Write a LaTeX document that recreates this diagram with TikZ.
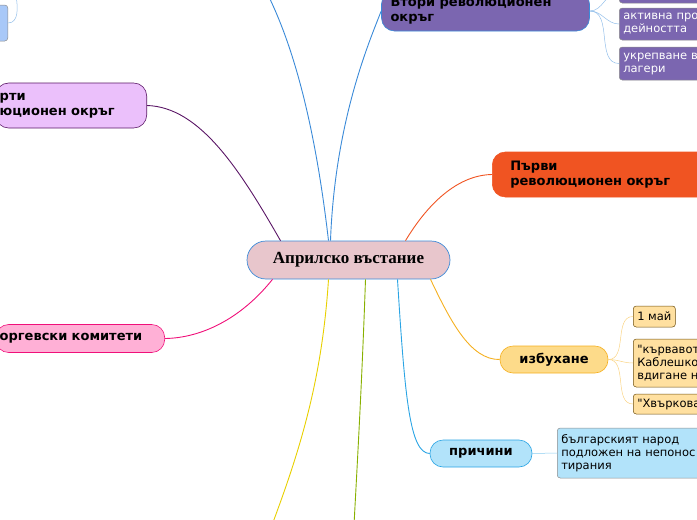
\documentclass[tikz,border=0pt]{standalone}
\usepackage{fontspec}
\setmainfont{DejaVu Sans}
\newfontfamily\titlefont{Liberation Serif}
\usetikzlibrary{positioning}
\definecolor{rootfill}{HTML}{E8C6CC}
\definecolor{rootline}{HTML}{3A8AD8}
\definecolor{vtori}{HTML}{7B66B0}
\definecolor{parvi}{HTML}{F05422}
\definecolor{izb}{HTML}{FDDB8A}
\definecolor{izbline}{HTML}{F5B020}
\definecolor{izbchild}{HTML}{FFE0A0}
\definecolor{prich}{HTML}{B2E3FA}
\definecolor{prichline}{HTML}{2AA4E4}
\definecolor{chetv}{HTML}{EBC0FB}
\definecolor{chetvline}{HTML}{5A1666}
\definecolor{gyur}{HTML}{FFB0D6}
\definecolor{gyurline}{HTML}{F0107A}
\definecolor{leftbox}{HTML}{A8C8F8}
\definecolor{yline}{HTML}{E8D000}
\definecolor{gline}{HTML}{88B000}
\tikzset{branch/.style={rounded corners=13pt,draw,line width=0.6pt,font=\fontsize{13}{15}\selectfont\bfseries,align=left,inner xsep=10pt},
	leaf/.style={rounded corners=3pt,draw=black!45,line width=0.5pt,font=\fontsize{11.5}{13}\selectfont,align=left,inner xsep=4pt,inner ysep=1pt,anchor=west},
	link/.style={line width=0.9pt},
	sublink/.style={line width=0.5pt}}
\begin{document}
\begin{tikzpicture}[x=1pt,y=-1pt]
	\useasboundingbox (0,0) rectangle (697,520);
	\clip (0,0) rectangle (697,520);
	\node[rounded corners=19pt,draw=rootline,fill=rootfill,line width=0.7pt,minimum width=203pt,minimum height=38pt,font=\titlefont\fontsize{17}{19}\selectfont\bfseries] (root) at (348.5,260) {Априлско въстание};

	\node[branch,fill=vtori,draw=rootline,minimum height=40pt,text width=190pt,inner xsep=9pt] (vtori) at (485.5,11) {Втори революционен\\окръг};
	\node[leaf,fill=vtori,text=white,minimum height=22pt,text width=90pt] (vt0) at (619,-8) {};
	\node[leaf,fill=vtori,text=white,minimum height=32pt,text width=90pt] (vt1) at (619,24) {активна про\\дейността};
	\node[leaf,fill=vtori,text=white,minimum height=33pt,text width=90pt] (vt2) at (619,63.5) {укрепване в\\лагери};

	\node[branch,fill=parvi,draw=parvi,minimum height=45pt,text width=210pt,anchor=west,inner xsep=18pt] (parvi) at (492,174.5) {Първи\\революционен окръг};

	\node[branch,fill=izb,draw=izbline,minimum height=27pt,minimum width=108pt,align=center] (izb) at (554,359.5) {избухане};
	\node[leaf,fill=izbchild,draw=black!55!izbline,minimum height=21pt] (may) at (633,316.5) {1 май};
	\node[leaf,fill=izbchild,draw=black!55!izbline,minimum height=48pt,text width=100pt] (krv) at (633,363) {\textquotedbl кървавот\\Каблешко\\вдигане н};
	\node[leaf,fill=izbchild,draw=black!55!izbline,minimum height=20pt,text width=100pt] (hvr) at (633,404) {\textquotedbl Хвъркова};

	\node[branch,fill=prich,draw=prichline,minimum height=27pt,minimum width=102pt,align=center] (prich) at (481,453.5) {причини};
	\node[leaf,fill=prich,minimum height=50pt,text width=160pt,align=left] (narod) at (557,453) {българският народ\\подложен на непонос\\тирания};

	\node[branch,fill=chetv,draw=chetvline,minimum height=45pt,text width=143pt,anchor=east,inner xsep=4pt] (chetv) at (147,105.5) {рти\\юционен окръг};
	\node[branch,fill=gyur,draw=gyurline,minimum height=28pt,anchor=east,text width=161pt,inner xsep=4pt] (gyur) at (165,338.5) {оргевски комитети};

	\node[leaf,fill=leftbox,minimum height=36pt,text width=60pt,anchor=east] (lb1) at (8,23) {};
	\coordinate (lbtop) at (16,-4);

	% branches from the root
	\draw[link,draw=rootline] ([xshift=-20pt]root.north) .. controls (318,150) and (300,60) .. (268,-5);
	\draw[link,draw=rootline] ([xshift=-18pt]root.north) .. controls (335,120) and (370,40) .. (vtori.west);
	\draw[link,draw=parvi] ([xshift=57pt]root.north) .. controls (430,200) and (460,175) .. (parvi.west);
	\draw[link,draw=izbline] ([xshift=82pt]root.south) .. controls (450,320) and (470,360) .. (izb.west);
	\draw[link,draw=prichline] ([xshift=49pt]root.south) .. controls (405,400) and (410,453) .. (prich.west);
	\draw[link,draw=chetvline] ([xshift=-68pt]root.north) .. controls (240,170) and (200,107) .. (chetv.east);
	\draw[link,draw=gyurline] ([xshift=-76pt]root.south) .. controls (240,320) and (200,338) .. (gyur.east);
	\draw[link,draw=yline] ([xshift=-20pt]root.south) .. controls (322,380) and (300,450) .. (272,525);
	\draw[link,draw=gline] ([xshift=17pt]root.south) .. controls (362,380) and (358,450) .. (354,525);

	% leaves
	\foreach \c in {vt0,vt1,vt2}
		\draw[sublink,draw=rootline!55] (vtori.east) to[out=0,in=180] (\c.west);
	\foreach \c in {may,krv,hvr}
		\draw[sublink,draw=izbline!55] (izb.east) to[out=0,in=180] (\c.west);
	\draw[sublink,draw=prichline!55] (prich.east) -- (narod.west);
	\draw[sublink,draw=rootline!55] (lb1.east) to[out=0,in=-80] (lbtop);
\end{tikzpicture}
\end{document}
